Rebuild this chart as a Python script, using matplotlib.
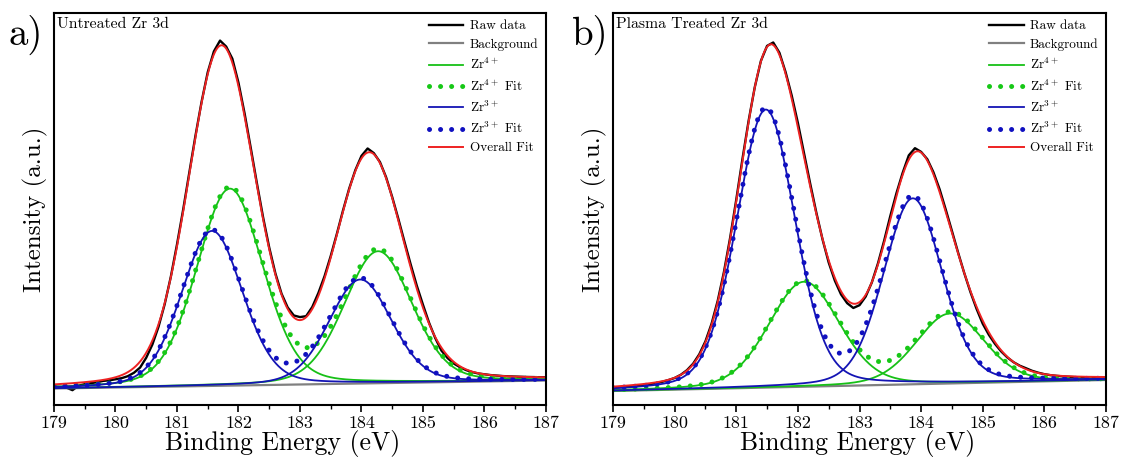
import numpy as np
import matplotlib
matplotlib.use("Agg")
import matplotlib.pyplot as plt

plt.rcParams['font.family'] = ['cmr10', 'DejaVu Serif']
plt.rcParams['mathtext.fontset'] = 'cm'

# energy axis (eV), raw spectra sampled every 0.1 eV
e_min, e_max = 179, 187
energy = np.round(np.arange(e_min, e_max + 0.001, 0.1), 1)

# a) untreated Zr 3d
raw_a = [18.6, 17.9, 17.4, 14.8, 19.3, 20.8, 21.8, 22.8, 24.1, 24.7, 25.7, 26.8, 28.8, 32.2, 37.4,
         47.3, 60.5, 78.3, 100.8, 128.3, 160.5, 195.2, 232.3, 269.1, 303.2, 332.8, 353.6, 364.4,
         358.4, 346.3, 322.2, 291.3, 256.8, 221.5, 187.7, 157.4, 131.6, 111.3, 97.5, 89.5, 87.9,
         88.8, 98, 112.1, 128.9, 149, 171.2, 194.6, 216.4, 234.8, 249.1, 256.5, 251.9, 243, 227.8,
         207.9, 186, 163, 140.6, 119.2, 100.2, 82.1, 66.9, 54.4, 46.9, 41.5, 37.8, 34.9, 32.9, 31.5,
         30.7, 29.9, 29.4, 28.9, 28.6, 28.4, 28.2, 28, 27.9, 27.7, 27.7]
bg_a = [16.5, 24.5]
zr4_pos_a = [181.86, 184.27]
zr4_h_a = [197, 132]
zr4_w_a = [1.27, 1.30]
zr3_pos_a = [181.57, 183.98]
zr3_h_a = [155, 104]
zr3_w_a = [1.17, 1.20]

# b) plasma treated Zr 3d
raw_b = [17.3, 17.7, 18.2, 18.7, 19.3, 19.9, 20.8, 21.9, 23.2, 24.9, 27, 30.2, 34.8, 41.3, 50.7,
         63.7, 81.4, 104.4, 133, 167, 205.3, 245.8, 284, 317.7, 344.1, 359.1, 362.5, 352.3, 333,
         309.4, 282.1, 251.7, 221.3, 192.2, 165.6, 142.5, 124.3, 110.6, 101.8, 97, 99.8, 108.4,
         122.5, 141.7, 164.3, 189, 211.9, 232.1, 249.6, 256.8, 253.1, 245.8, 232.7, 215.7, 195.3,
         174, 152.4, 131.9, 113, 96.1, 81.2, 70.1, 61, 53.5, 47.5, 42.8, 39.3, 36.8, 34.2, 32.3,
         30.8, 29.8, 29.1, 28.6, 28.2, 27.9, 27.6, 27.4, 27.2, 27.1, 26.9]
bg_b = [14.0, 25.0]
zr4_pos_b = [182.10, 184.47]
zr4_h_b = [105, 70]
zr4_w_b = [1.35, 1.30]
zr3_pos_b = [181.48, 183.865]
zr3_h_b = [278, 186]
zr3_w_b = [1.12, 1.12]

# lorentzian fraction of the pseudo-voigt fit peaks
lor_frac = 0.2


def pv(x, c, h, w, m=lor_frac):
    d2 = 4 * (x - c) ** 2 / w ** 2
    return h * ((1 - m) * np.exp(-np.log(2) * d2) + m / (1 + d2))


def draw(ax, raw, bg, p4, h4, w4, p3, h3, w3, title, xlab_x):
    x = np.linspace(e_min, e_max, 801)
    b = np.interp(x, [e_min, e_max], bg)
    g = [pv(x, p4[i], h4[i], w4[i]) for i in range(2)]
    bl = [pv(x, p3[i], h3[i], w3[i]) for i in range(2)]
    dots = (0, (0.01, 2.2))

    ax.plot(energy, raw, color='black', lw=1.7, label='Raw data')
    ax.plot(x, b, color='#808080', lw=1.6, label='Background')
    ax.plot(x, b + g[0], color='#17c017', lw=1.3, label='Zr$^{4+}$')
    ax.plot(x, b + g[1], color='#17c017', lw=1.3)
    ax.plot(x, b + g[0] + g[1], color='#17c817', lw=3.6, ls=dots,
            dash_capstyle='round', label='Zr$^{4+}$ Fit')
    ax.plot(x, b + bl[0], color='#1414b4', lw=1.3, label='Zr$^{3+}$')
    ax.plot(x, b + bl[1], color='#1414b4', lw=1.3)
    ax.plot(x, b + bl[0] + bl[1], color='#1010c0', lw=3.6, ls=dots,
            dash_capstyle='round', label='Zr$^{3+}$ Fit')
    ax.plot(x, b + g[0] + g[1] + bl[0] + bl[1], color='#ee2222', lw=1.4, label='Overall Fit')

    ax.set_xlim(e_min, e_max)
    ax.set_ylim(0, 392)
    ax.set_yticks([])
    ax.set_xticks(np.arange(e_min, e_max + 1, 1))
    ax.set_xticks(np.arange(e_min, e_max, 0.5), minor=True)
    ax.tick_params(axis='x', which='major', direction='out', length=5, width=1.2, labelsize=13, pad=3)
    ax.tick_params(axis='x', which='minor', direction='out', length=3, width=1.0)
    for s in ax.spines.values():
        s.set_linewidth(1.5)
    ax.set_xlabel('Binding Energy (eV)', fontsize=18.5)
    ax.xaxis.set_label_coords(xlab_x, -0.065, transform=ax.transAxes)
    ax.xaxis.label.set_va('top')
    ax.set_ylabel('Intensity (a.u.)', fontsize=18, labelpad=4)
    ax.text(0.0067, 0.961, title, transform=ax.transAxes, fontsize=11.3, ha='left', va='baseline')
    ax.legend(loc='upper right', frameon=False, fontsize=9.5, handlelength=2.65,
              handletextpad=0.5, labelspacing=0.45, borderaxespad=0.15)


fig = plt.figure(figsize=(11.25, 4.72), dpi=100)
ax1 = fig.add_axes([0.048, 0.142, 0.4373, 0.8305])
ax2 = fig.add_axes([0.5449, 0.142, 0.4382, 0.8305])
draw(ax1, raw_a, bg_a, zr4_pos_a, zr4_h_a, zr4_w_a, zr3_pos_a, zr3_h_a, zr3_w_a, 'Untreated Zr 3d', 0.465)
draw(ax2, raw_b, bg_b, zr4_pos_b, zr4_h_b, zr4_w_b, zr3_pos_b, zr3_h_b, zr3_w_b, 'Plasma Treated Zr 3d', 0.497)
fig.text(0.008, 0.905, 'a)', fontsize=28, va='baseline')
fig.text(0.508, 0.905, 'b)', fontsize=28, va='baseline')
fig.savefig('out.png', dpi=100)
